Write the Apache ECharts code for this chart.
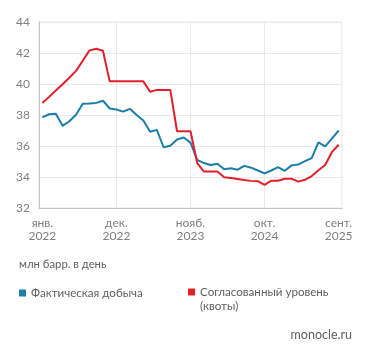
<!DOCTYPE html>
<html>
<head>
<meta charset="utf-8">
<script src="https://cdn.jsdelivr.net/npm/echarts@6/dist/echarts.min.js"></script>
<style>
html,body{margin:0;padding:0;background:#fff;}
#chart{width:371px;height:358px;}
</style>
</head>
<body>
<div id="chart"></div>
<script>
var months = ['янв.','февр.','март','апр.','май','июнь','июль','авг.','сент.','окт.','нояб.','дек.'];
var categories = [];
for (var y = 2022; y <= 2025; y++) {
  for (var m = 0; m < 12; m++) {
    if (y === 2025 && m > 8) break;
    categories.push(months[m] + '\n' + y);
  }
}
var actualName = 'Фактическая добыча';
var quotaName = 'Согласованный уровень (квоты)';
var actual = [37.85,38.05,38.08,37.3,37.6,38.02,38.72,38.74,38.78,38.92,38.42,38.35,38.22,38.4,38.0,37.65,36.92,37.04,35.92,36.02,36.42,36.55,36.22,35.1,34.9,34.77,34.85,34.5,34.57,34.47,34.72,34.6,34.42,34.23,34.42,34.64,34.4,34.75,34.8,35.02,35.22,36.23,35.97,36.48,37.0];
var quota = [38.77,39.17,39.58,39.99,40.4,40.85,41.5,42.17,42.27,42.15,40.17,40.17,40.17,40.17,40.17,40.17,39.5,39.62,39.62,39.62,36.95,36.95,36.95,34.9,34.35,34.35,34.35,33.98,33.93,33.87,33.8,33.75,33.73,33.49,33.76,33.76,33.89,33.89,33.7,33.82,34.06,34.43,34.77,35.6,36.08];
var yMin = 32, yMax = 44, yStep = 2;
var gridMarks = [categories[11], categories[22], categories[33]];

var FONT = 'Lato, "Open Sans", sans-serif';
var chart = echarts.init(document.getElementById('chart'), null, {renderer: 'canvas'});
chart.setOption({
  animation: false,
  backgroundColor: '#ffffff',
  textStyle: {fontFamily: FONT},
  grid: {left: 39, right: 29, top: 22, height: 186, show: true, borderColor: '#e9e9e9', borderWidth: 1},
  xAxis: {
    type: 'category',
    data: categories,
    boundaryGap: true,
    axisLine: {show: true, lineStyle: {color: '#c4c4c4', width: 1}},
    axisTick: {show: false},
    axisLabel: {interval: 10, color: '#808080', fontSize: 12, lineHeight: 13, margin: 9, fontFamily: FONT},
    splitLine: {show: false}
  },
  yAxis: {
    type: 'value',
    min: yMin, max: yMax, interval: yStep,
    axisLine: {show: true, lineStyle: {color: '#c4c4c4', width: 1}},
    axisTick: {show: false},
    axisLabel: {color: '#808080', fontSize: 12, margin: 9, fontFamily: FONT},
    splitLine: {show: true, lineStyle: {color: '#e9e9e9', width: 1}}
  },
  legend: [
    {
      data: [actualName], left: 19, top: 286, padding: 0,
      icon: 'rect', itemWidth: 7, itemHeight: 7, itemGap: 0,
      textStyle: {color: '#606060', fontSize: 11.6, lineHeight: 14, fontFamily: FONT},
      selectedMode: false
    },
    {
      data: [quotaName], left: 188, top: 272, padding: 0,
      icon: 'rect', itemWidth: 7, itemHeight: 7, itemGap: 0,
      formatter: function () { return '{t| }\n{a|Согласованный уровень}\n{a|(квоты)}'; },
      textStyle: {
        color: '#606060', fontSize: 11.6, fontFamily: FONT,
        rich: {
          t: {lineHeight: 14, fontSize: 11.6, fontFamily: FONT},
          a: {lineHeight: 14, fontSize: 11.6, color: '#606060', fontFamily: FONT}
        }
      },
      selectedMode: false
    }
  ],
  graphic: [
    {type: 'text', left: 19, top: 259, style: {text: 'млн барр. в день', fill: '#606060', font: '11.3px ' + FONT}},
    {type: 'text', right: 19, top: 328, style: {text: 'monocle.ru', fill: '#606060', font: '12.5px ' + FONT}}
  ],
  series: [
    {
      type: 'line', name: 'grid', data: [], z: 1, silent: true,
      markLine: {
        z: 1, silent: true, symbol: 'none', label: {show: false},
        lineStyle: {color: '#e9e9e9', width: 1, type: 'solid'},
        data: gridMarks.map(function (c) { return {xAxis: c}; })
      }
    },
    {
      type: 'line', name: actualName, data: actual, z: 3,
      showSymbol: false, symbol: 'none',
      lineStyle: {color: '#1a7ea8', width: 2}, itemStyle: {color: '#1a7ea8'}
    },
    {
      type: 'line', name: quotaName, data: quota, z: 4,
      showSymbol: false, symbol: 'none',
      lineStyle: {color: '#e2202c', width: 2}, itemStyle: {color: '#e2202c'}
    }
  ]
});
</script>
</body>
</html>
